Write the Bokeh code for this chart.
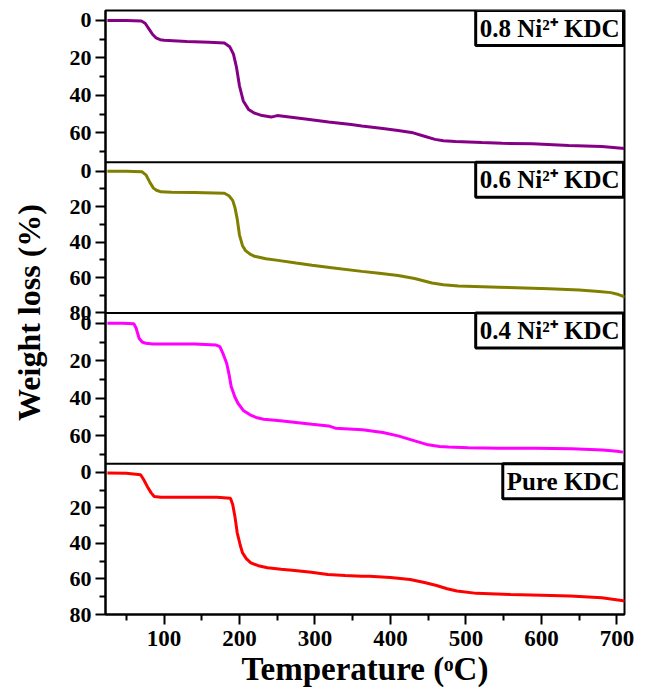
from bokeh.plotting import figure
from bokeh.models import Range1d, FixedTicker, Label, Span, CustomJSTickFormatter
from bokeh.embed import file_html
from bokeh.resources import INLINE

# ---------------- data ----------------
temp_08 = [25, 50, 70, 75, 80, 85, 90, 95, 100, 130, 160, 180, 187, 192, 196, 200, 205, 212, 220, 230,
           242, 250, 266, 290, 318, 348, 362, 390, 410, 430, 445, 459, 470, 486, 521, 548, 588, 636, 680, 710]
loss_08 = [0, 0, 0.3, 1.5, 4.5, 7.5, 9.5, 10.3, 10.6, 11.2, 11.7, 12.1, 14, 18, 25, 35, 43, 47.5, 49.5, 50.8,
           51.6, 50.8, 51.6, 52.8, 54.2, 55.6, 56.4, 57.7, 58.7, 60, 61.8, 63.5, 64.2, 64.6, 65.2, 65.6, 65.8, 66.7, 67.3, 68.4]

temp_06 = [25, 50, 71, 76, 81, 86, 90, 96, 110, 140, 180, 186, 191, 194, 197, 200, 204, 208, 214, 220,
           235, 251, 275, 296, 322, 362, 385, 410, 432, 455, 470, 490, 543, 610, 650, 676, 692, 702, 711]
loss_06 = [0, 0, 0.3, 2, 6, 9.5, 10.7, 11.6, 11.9, 12, 12.4, 13.8, 16.4, 20.5, 27, 36, 42, 44.8, 46.8, 48,
           49.4, 50.3, 51.8, 53.1, 54.4, 56.5, 57.5, 58.8, 60.5, 63.1, 64, 64.8, 65.4, 66.3, 67, 67.8, 68.5, 69.6, 71]

temp_04 = [25, 45, 60, 63, 67, 71, 76, 85, 96, 140, 169, 174, 178, 183, 186, 189, 194, 198, 205, 214,
           222, 232, 254, 296, 318, 327, 363, 390, 410, 430, 450, 465, 477, 503, 543, 592, 640, 681, 700, 708]
loss_04 = [0, 0, 0.2, 2.5, 8, 10, 10.7, 11, 11, 11, 11.6, 12.5, 16, 21.3, 27, 33.8, 39.5, 42.7, 46.5, 48.9,
           50.3, 51.2, 52.1, 53.9, 54.8, 56, 56.9, 58.3, 60.1, 62.5, 64.9, 65.8, 66.1, 66.4, 66.7, 66.7, 67, 67.6, 68.3, 68.8]

temp_pure = [25, 50, 69, 73, 78, 83, 87, 96, 130, 170, 188, 191, 194, 197, 201, 204, 209, 215, 225, 237,
             255, 273, 295, 317, 340, 362, 372, 400, 426, 445, 461, 475, 488, 514, 559, 600, 638, 680, 711]
loss_pure = [0.3, 0.5, 1.3, 4, 8, 11.5, 13.5, 14, 14, 14, 14.5, 18, 25, 34, 41, 45.3, 48.5, 50.9, 52.5, 53.7,
             54.5, 55.2, 56.2, 57.5, 58, 58.4, 58.4, 59.2, 60.3, 62, 63.7, 65.5, 66.8, 68.1, 68.7, 69.1, 69.6, 70.6, 72.4]

sample_labels = ["0.8 Ni\u00b2\u207a KDC", "0.6 Ni\u00b2\u207a KDC", "0.4 Ni\u00b2\u207a KDC", "Pure KDC"]
x_ticks = [100, 200, 300, 400, 500, 600, 700]
x_minor = [50, 150, 250, 350, 450, 550, 650]
y_ticks = [0, 20, 40, 60, 80]
y_minor = [10, 30, 50, 70]
x_title = "Temperature (\u1d52C)"
y_title = "Weight loss (%)"

# ---------------- layout of the stacked panels ----------------
FONT = "Liberation Serif"
FRAME_H = 605  # frame height in px
# (top offset px, height px, value at top, value at bottom) for each panel, top to bottom
panel_geo = [(0, 152, -5.3, 75.7), (152, 151, -5.1, 80.0), (303, 151, -5.5, 75.0), (454, 151, -4.9, 80.0)]
series = [(temp_08, loss_08, "#850085"), (temp_06, loss_06, "#808000"),
          (temp_04, loss_04, "#FF00FF"), (temp_pure, loss_pure, "#FF0000")]

p = figure(width=649, height=689, x_range=Range1d(22.5, 710), y_range=Range1d(FRAME_H, 0),
           output_backend="svg", toolbar_location=None,
           min_border_left=105, min_border_right=25, min_border_top=10, min_border_bottom=74)
p.title.visible = False
p.xgrid.visible = False
p.ygrid.visible = False
p.outline_line_color = "black"
p.outline_line_width = 2
p.outline_line_alpha = 1
p.background_fill_color = "white"
p.border_fill_color = "white"

tick_pos, tick_lab, minor_pos = [], [], []
for k, (t, h, a, b) in enumerate(panel_geo):
    s = h / (b - a)
    name = "p%d" % k
    # panel range stretched over the whole frame, so that it lands on its own strip
    p.extra_y_ranges[name] = Range1d(start=a + (FRAME_H - t) / s, end=a - t / s)
    for v in y_ticks:
        if a <= v <= b:
            tick_pos.append(t + (v - a) * s)
            tick_lab.append(str(v))
    for v in y_minor:
        if a <= v <= b:
            minor_pos.append(t + (v - a) * s)
    temps, losses, color = series[k]
    p.line(temps, losses, y_range_name=name, line_color=color, line_width=3)
    if k < 3:
        p.add_layout(Span(location=b, dimension="width", y_range_name=name,
                          line_color="black", line_width=2))
    p.add_layout(Label(x=710, y=a, y_range_name=name, text=sample_labels[k],
                       text_align="right", text_baseline="top",
                       x_offset=-1, y_offset=0, padding=4,
                       border_line_color="black", border_line_width=3,
                       background_fill_color="white", background_fill_alpha=1,
                       text_font=FONT, text_font_style="bold", text_font_size="25px",
                       text_color="black"))

ya = p.yaxis[0]
ya.ticker = FixedTicker(ticks=tick_pos, minor_ticks=minor_pos)
ya.formatter = CustomJSTickFormatter(args=dict(pos=tick_pos, labs=tick_lab), code="""
    let best = 0, bd = Infinity;
    for (let i = 0; i < pos.length; i++) {
        const d = Math.abs(pos[i] - tick);
        if (d < bd) { bd = d; best = i; }
    }
    return labs[best];
""")
ya.axis_line_width = 2
ya.major_tick_line_width = 2
ya.minor_tick_line_width = 2
ya.major_tick_out = 10
ya.major_tick_in = 0
ya.minor_tick_out = 6
ya.minor_tick_in = 0
ya.major_label_standoff = 4
ya.major_label_text_font = FONT
ya.major_label_text_font_style = "bold"
ya.major_label_text_font_size = "22px"
ya.major_label_text_color = "black"
ya.axis_label = y_title
ya.axis_label_standoff = 20
ya.axis_label_text_font = FONT
ya.axis_label_text_font_style = "bold"
ya.axis_label_text_font_size = "32px"
ya.axis_label_text_color = "black"

xa = p.xaxis[0]
xa.ticker = FixedTicker(ticks=x_ticks, minor_ticks=x_minor)
xa.axis_line_width = 2
xa.major_tick_line_width = 2
xa.minor_tick_line_width = 2
xa.major_tick_out = 10
xa.major_tick_in = 0
xa.minor_tick_out = 6
xa.minor_tick_in = 0
xa.major_label_standoff = 6
xa.major_label_text_font = FONT
xa.major_label_text_font_style = "bold"
xa.major_label_text_font_size = "23px"
xa.major_label_text_color = "black"
xa.axis_label = x_title
xa.axis_label_standoff = 2
xa.axis_label_text_font = FONT
xa.axis_label_text_font_style = "bold"
xa.axis_label_text_font_size = "33px"
xa.axis_label_text_color = "black"

open("out.html", "w").write(file_html(p, INLINE))
